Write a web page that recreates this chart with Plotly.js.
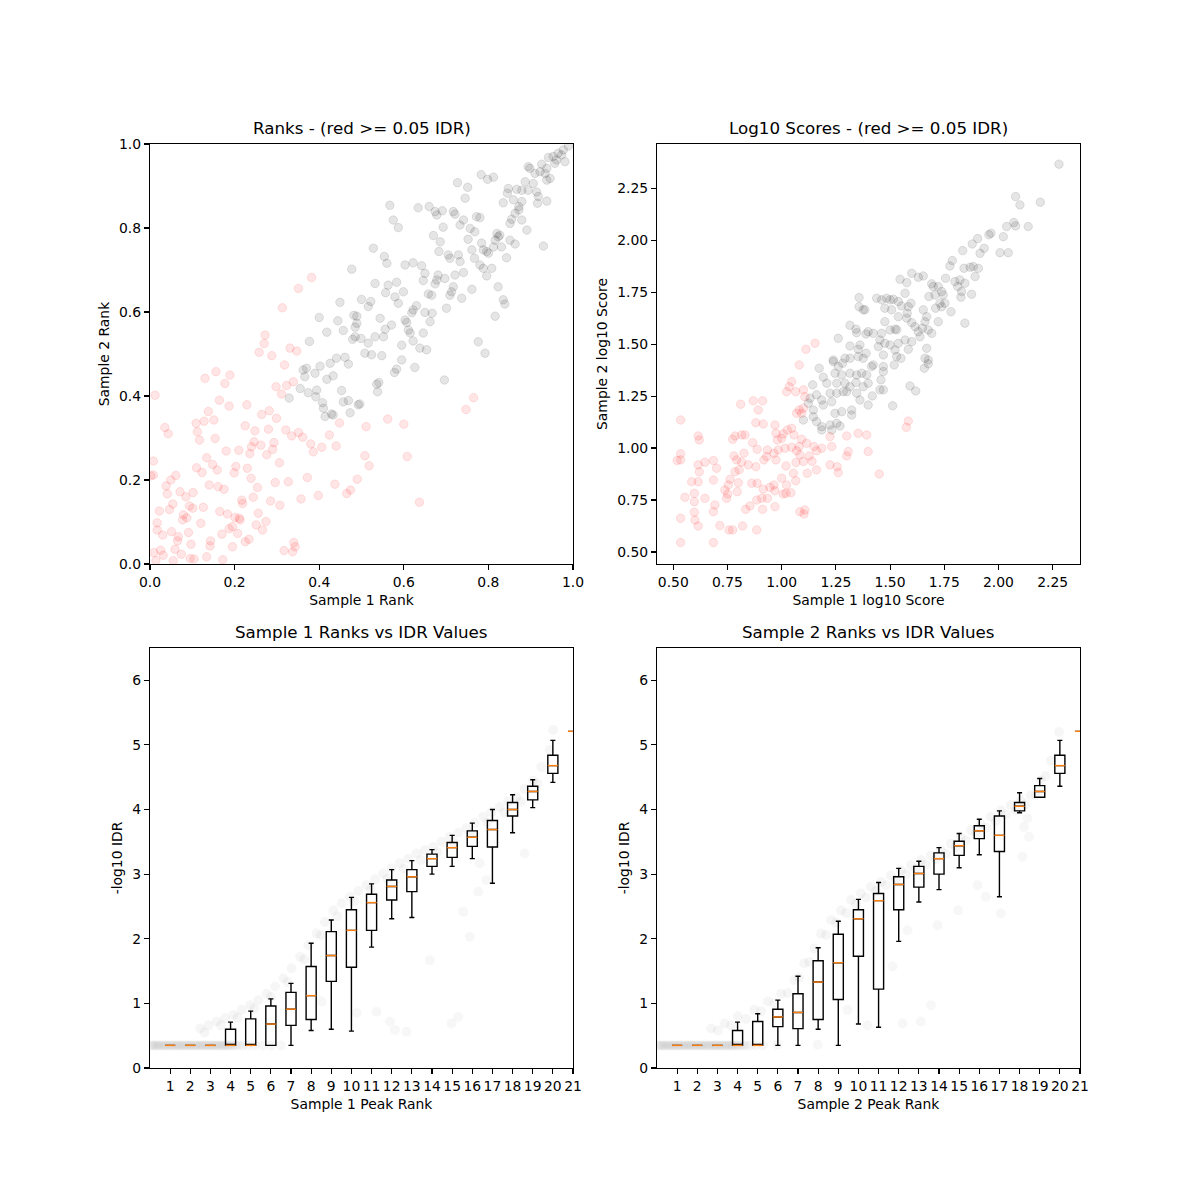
<!DOCTYPE html>
<html><head><meta charset="utf-8">
<script src="https://cdn.plot.ly/plotly-3.0.1.min.js"></script>
<style>body{margin:0;background:#fff}#chart{width:1200px;height:1200px}</style>
</head><body><div id="chart"></div>
<script>
// ---------- Top-left: ranks (x = sample 1 rank, y = sample 2 rank) ----------
const ranksGrey = [
[0.477,0.702],[0.449,0.623],[0.400,0.587],[0.444,0.579],[0.482,0.592],[0.418,0.552],[0.457,0.556],[0.485,0.564],[0.377,0.530],[0.479,0.535],[0.441,0.490],[0.461,0.492],
[0.989,0.995],[0.977,0.986],[0.965,0.978],[0.953,0.970],[0.942,0.968],[0.973,0.974],[0.981,0.958],[0.957,0.954],[0.961,0.962],[0.938,0.942],[0.926,0.952],[0.922,0.934],[0.894,0.946],[0.898,0.942],[0.910,0.930],[0.934,0.930],[0.946,0.918],[0.938,0.914],[0.906,0.906],[0.894,0.890],[0.887,0.910],[0.879,0.890],[0.914,0.886],[0.918,0.875],[0.938,0.864],[0.916,0.859],[0.867,0.892],[0.847,0.894],[0.845,0.883],[0.859,0.867],[0.879,0.863],[0.872,0.851],[0.835,0.860],[0.872,0.843],[0.863,0.835],[0.855,0.821],[0.851,0.811],[0.879,0.819],[0.891,0.795],[0.930,0.757],[0.783,0.927],[0.798,0.916],[0.812,0.921],[0.727,0.908],[0.751,0.897],[0.745,0.871],[0.567,0.854],[0.634,0.848],[0.660,0.851],[0.674,0.839],[0.691,0.841],[0.678,0.831],[0.717,0.839],[0.721,0.833],[0.741,0.819],[0.733,0.807],[0.772,0.827],[0.780,0.825],[0.757,0.799],[0.768,0.791],[0.752,0.773],[0.693,0.802],[0.575,0.819],[0.587,0.801],[0.670,0.782],[0.686,0.767],[0.683,0.744],[0.705,0.736],[0.709,0.728],[0.729,0.736],[0.733,0.720],[0.761,0.748],[0.784,0.764],[0.788,0.748],[0.796,0.744],[0.800,0.740],[0.820,0.787],[0.823,0.779],[0.827,0.783],[0.816,0.771],[0.812,0.755],[0.831,0.755],[0.851,0.771],[0.863,0.762],[0.843,0.729],[0.767,0.728],[0.780,0.712],[0.788,0.704],[0.808,0.704],[0.796,0.686],[0.823,0.660],[0.835,0.629],[0.839,0.619],[0.816,0.590],[0.528,0.752],[0.554,0.732],[0.560,0.716],[0.603,0.712],[0.622,0.717],[0.642,0.710],[0.650,0.692],[0.646,0.675],[0.681,0.688],[0.678,0.676],[0.674,0.667],[0.697,0.680],[0.721,0.688],[0.741,0.694],[0.717,0.660],[0.713,0.648],[0.709,0.640],[0.737,0.633],[0.761,0.654],[0.658,0.643],[0.666,0.640],[0.532,0.668],[0.563,0.664],[0.557,0.646],[0.583,0.671],[0.599,0.648],[0.579,0.636],[0.587,0.621],[0.500,0.630],[0.516,0.613],[0.522,0.625],[0.630,0.615],[0.622,0.605],[0.619,0.598],[0.650,0.599],[0.667,0.597],[0.662,0.577],[0.701,0.609],[0.489,0.590],[0.489,0.573],[0.544,0.585],[0.485,0.541],[0.499,0.537],[0.516,0.526],[0.532,0.541],[0.552,0.541],[0.556,0.559],[0.571,0.569],[0.603,0.581],[0.607,0.575],[0.611,0.557],[0.615,0.550],[0.646,0.550],[0.622,0.531],[0.595,0.521],[0.638,0.514],[0.654,0.510],[0.776,0.529],[0.792,0.502],[0.508,0.502],[0.524,0.498],[0.548,0.496],[0.595,0.486],
[0.362,0.462],[0.370,0.466],[0.366,0.446],[0.390,0.454],[0.402,0.471],[0.426,0.478],[0.469,0.476],[0.418,0.440],[0.433,0.448],[0.355,0.418],[0.374,0.408],[0.394,0.414],[0.392,0.398],[0.408,0.384],[0.410,0.371],[0.414,0.351],[0.429,0.357],[0.433,0.355],[0.453,0.413],[0.457,0.386],[0.469,0.389],[0.473,0.360],[0.492,0.379],[0.329,0.395],
[0.578,0.456],[0.583,0.464],[0.626,0.468],[0.696,0.438],[0.536,0.428],[0.541,0.432],[0.538,0.410],[0.496,0.381]
];
const ranksRed = [
[0.382,0.682],[0.351,0.656],[0.313,0.610],[0.272,0.545],[0.270,0.525],[0.258,0.504],[0.288,0.496],[0.331,0.514],[0.347,0.507],
[0.318,0.474],[0.339,0.434],[0.323,0.425],[0.298,0.422],[0.311,0.405],[0.156,0.458],[0.189,0.450],[0.177,0.430],[0.130,0.442],[0.164,0.390],[0.187,0.376],[0.229,0.379],[0.138,0.363],[0.128,0.340],[0.109,0.335],[0.151,0.343],[0.264,0.356],[0.282,0.365],[0.299,0.347],[0.448,0.336],[0.035,0.325],[0.043,0.310],[0.112,0.315],[0.117,0.295],[0.154,0.299],[0.225,0.329],[0.248,0.317],[0.280,0.321],[0.321,0.319],[0.335,0.305],[0.351,0.313],[0.361,0.302],[0.424,0.307],[0.380,0.286],[0.386,0.267],[0.406,0.278],[0.440,0.281],[0.246,0.291],[0.240,0.279],[0.236,0.263],[0.262,0.283],[0.290,0.273],[0.293,0.289],[0.276,0.260],[0.306,0.241],[0.180,0.269],[0.210,0.271],[0.134,0.253],[0.148,0.237],[0.159,0.224],[0.110,0.229],[0.123,0.218],[0.203,0.232],[0.199,0.217],[0.230,0.228],[0.239,0.204],[0.008,0.245],[0.008,0.212],[0.002,0.210],[0.038,0.186],[0.041,0.167],[0.049,0.200],[0.061,0.211],[0.071,0.172],[0.085,0.160],[0.102,0.170],[0.140,0.188],[0.161,0.184],[0.175,0.178],[0.254,0.182],[0.296,0.194],[0.327,0.196],[0.372,0.206],[0.398,0.163],[0.357,0.155],[0.437,0.190],[0.465,0.168],[0.474,0.176],[0.490,0.202],[0.022,0.126],[0.046,0.130],[0.054,0.143],[0.093,0.138],[0.101,0.133],[0.126,0.135],[0.165,0.125],[0.183,0.119],[0.201,0.111],[0.211,0.109],[0.217,0.152],[0.219,0.144],[0.244,0.159],[0.285,0.150],[0.307,0.140],[0.079,0.117],[0.077,0.105],[0.087,0.110],[0.017,0.098],[0.017,0.081],[0.030,0.069],[0.051,0.077],[0.067,0.065],[0.065,0.055],[0.091,0.075],[0.120,0.097],[0.059,0.035],[0.074,0.023],[0.097,0.047],[0.143,0.055],[0.142,0.043],[0.170,0.071],[0.187,0.084],[0.195,0.089],[0.207,0.073],[0.213,0.105],[0.251,0.093],[0.256,0.121],[0.274,0.101],[0.266,0.081],[0.234,0.059],[0.225,0.053],[0.195,0.041],[0.317,0.032],[0.337,0.029],[0.343,0.041],[0.340,0.051],[0.009,0.027],[0.025,0.033],[0.031,0.021],[0.014,0.008],[0.055,0.008],[0.095,0.013],[0.104,0.012],[0.134,0.017],[0.172,0.010],[0.012,0.402],
[0.511,0.327],[0.562,0.345],[0.600,0.333],[0.508,0.258],[0.518,0.234],[0.608,0.256],[0.637,0.147],[0.747,0.368],[0.765,0.396]
];

// ---------- Top-right: log10 scores ----------
const scoresGrey = [
[1.357,1.724],[1.357,1.680],[1.376,1.665],[1.315,1.591],[1.343,1.572],[1.346,1.555],[1.389,1.549],[1.261,1.528],[1.315,1.491],[1.361,1.496],[1.353,1.475],[1.389,1.456],[1.292,1.432],[1.315,1.432],[1.353,1.440],[1.238,1.424],
[2.279,2.366],[2.079,2.210],[2.099,2.170],[2.193,2.183],[2.071,2.085],[2.079,2.069],[2.038,2.066],[2.137,2.066],[2.022,2.017],[1.965,2.034],[1.956,2.026],[1.904,2.008],[1.879,1.982],[1.934,1.961],[1.915,1.937],[1.835,1.950],[2.007,1.940],[2.045,1.940],[1.787,1.902],[1.776,1.876],[1.841,1.865],[1.869,1.870],[1.884,1.873],[1.907,1.865],[1.892,1.825],[1.876,1.740],[1.845,1.601],[1.756,1.817],[1.799,1.801],[1.822,1.809],[1.812,1.777],[1.830,1.753],[1.827,1.726],[1.845,1.793],[1.722,1.777],[1.738,1.753],[1.745,1.737],[1.699,1.777],[1.679,1.729],[1.753,1.697],[1.738,1.680],[1.710,1.673],[1.781,1.656],[1.722,1.608],[1.692,1.790],[1.653,1.828],[1.630,1.822],[1.600,1.841],[1.577,1.796],[1.546,1.812],[1.569,1.745],[1.596,1.697],[1.584,1.680],[1.579,1.649],[1.577,1.625],[1.553,1.684],[1.515,1.716],[1.484,1.721],[1.461,1.713],[1.438,1.721],[1.500,1.713],[1.538,1.705],[1.476,1.673],[1.507,1.665],[1.538,1.632],[1.523,1.572],[1.531,1.569],[1.476,1.608],[1.500,1.568],[1.600,1.603],[1.615,1.584],[1.653,1.665],[1.669,1.632],[1.661,1.608],[1.649,1.576],[1.676,1.568],[1.630,1.560],[1.692,1.552],[1.638,1.536],[1.600,1.512],[1.569,1.520],[1.669,1.480],[1.584,1.475],[1.538,1.504],[1.523,1.472],[1.500,1.496],[1.476,1.504],[1.453,1.520],[1.461,1.552],[1.422,1.552],[1.399,1.560],[1.384,1.665],[1.446,1.488],[1.469,1.448],[1.530,1.440],[1.661,1.432],[1.707,1.737],[1.730,1.697],
[1.173,1.384],[1.192,1.341],[1.238,1.416],[1.261,1.392],[1.281,1.408],[1.376,1.432],[1.246,1.360],[1.277,1.352],[1.315,1.360],[1.346,1.352],[1.369,1.360],[1.143,1.304],[1.208,1.312],[1.254,1.312],[1.292,1.312],[1.315,1.295],[1.343,1.315],[1.300,1.271],[1.346,1.264],[1.376,1.295],[1.131,1.240],[1.161,1.256],[1.185,1.231],[1.223,1.264],[1.254,1.264],[1.284,1.271],[1.361,1.231],[1.146,1.183],[1.123,1.216],[1.192,1.207],[1.231,1.223],[1.246,1.167],[1.277,1.175],[1.323,1.183],[1.323,1.159],[1.100,1.135],[1.146,1.151],[1.161,1.127],[1.185,1.103],[1.223,1.111],[1.254,1.119],[1.269,1.106],[1.231,1.087],[1.185,1.087],[1.399,1.207],
[1.415,1.392],[1.422,1.400],[1.469,1.392],[1.469,1.368],[1.392,1.352],[1.399,1.312],[1.418,1.251],[1.453,1.280],[1.469,1.280],[1.458,1.328],[1.519,1.400],[1.550,1.432],[1.676,1.424],[1.676,1.405],[1.658,1.384],[1.592,1.299],[1.618,1.275],[1.512,1.203]
];
const scoresRed = [
[1.112,1.475],[1.154,1.504],
[1.081,1.400],[1.046,1.320],[1.035,1.295],[1.023,1.271],[1.065,1.271],[1.100,1.280],[1.107,1.247],[1.069,1.167],[1.081,1.183],[1.100,1.192],[1.092,1.167],[1.223,1.055],[1.300,1.058],[1.353,1.071],[1.392,1.063],[1.399,0.983],[1.307,0.983],[1.300,0.962],[1.231,1.007],[1.185,0.999],[1.149,1.007],[1.161,0.987],[1.127,0.962],[1.140,0.936],[1.084,0.967],[1.069,0.987],[1.046,1.004],[1.015,0.999],[0.984,0.991],[0.964,0.975],[0.931,0.959],[0.918,0.943],[0.887,0.994],[0.934,0.991],[0.974,0.943],[1.020,0.914],[1.000,0.855],[1.066,0.930],[1.100,0.935],[1.118,0.879],[1.161,0.895],[1.223,0.919],[1.256,0.910],[1.261,0.882],[1.054,0.879],[1.065,0.843],[1.023,0.822],[1.043,0.785],[1.007,0.779],[0.969,0.794],[0.964,0.822],[0.946,0.811],[0.915,0.802],[0.934,0.758],[0.908,0.758],[0.885,0.750],[0.862,0.831],[0.887,0.831],[0.881,0.910],[0.846,0.919],[0.826,0.975],[0.815,0.932],[0.792,0.943],[0.780,0.962],[0.762,0.850],[0.754,0.822],[0.738,0.798],[0.751,0.779],[0.746,0.758],[0.800,0.833],[0.795,0.790],[0.785,0.886],[0.804,0.895],[0.831,1.063],[0.815,1.063],[0.785,1.058],[0.774,1.042],[0.866,1.026],[0.881,1.122],[0.915,1.116],[0.969,1.111],[0.974,1.071],[0.980,1.039],[1.000,1.047],[1.007,1.068],[1.026,1.087],[1.046,1.095],[1.057,1.063],[1.092,1.042],[1.115,1.023],[1.081,1.007],[0.811,1.211],[0.869,1.227],[0.912,1.227],[0.892,1.183],[0.534,1.135],[0.615,1.058],[0.620,1.039],[0.534,0.972],[0.534,0.943],[0.518,0.940],[0.615,0.919],[0.620,0.886],[0.646,0.932],[0.685,0.940],[0.700,0.903],[0.585,0.838],[0.615,0.838],[0.685,0.846],[0.554,0.763],[0.597,0.782],[0.597,0.742],[0.646,0.758],[0.692,0.726],[0.685,0.694],[0.597,0.691],[0.600,0.654],[0.615,0.625],[0.534,0.662],[0.715,0.627],[0.757,0.606],[0.774,0.606],[0.820,0.625],[0.834,0.705],[0.854,0.721],[0.885,0.606],[0.912,0.705],[0.969,0.718],[1.020,0.782],[1.084,0.694],[1.107,0.702],[1.103,0.683],[0.534,0.545],[0.685,0.545],
[1.584,1.130],[1.575,1.100],[1.450,0.875]
];

// ---------- Bottom: box statistics (-log10 IDR) per peak-rank bin ----------
const binPositions = [1,2,3,4,5,6,7,8,9,10,11,12,13,14,15,16,17,18,19,20,21];
const binLabels = ['1','2','3','4','5','6','7','8','9','10','11','12','13','14','15','16','17','18','19','20','21'];

const s1Low  = [0.35,0.35,0.35,0.35,0.35,0.35,0.35,0.58,0.60,0.57,1.87,2.31,2.33,3.00,3.12,3.24,2.86,3.64,4.03,4.42,5.21];
const s1Q1   = [0.35,0.35,0.35,0.35,0.35,0.35,0.66,0.75,1.34,1.56,2.13,2.60,2.73,3.12,3.26,3.43,3.42,3.90,4.15,4.56,5.21];
const s1Med  = [0.35,0.35,0.35,0.35,0.35,0.68,0.91,1.12,1.74,2.13,2.56,2.81,2.96,3.24,3.41,3.57,3.69,4.00,4.28,4.68,5.21];
const s1Q3   = [0.35,0.35,0.35,0.60,0.76,0.96,1.17,1.57,2.11,2.45,2.69,2.91,3.07,3.31,3.49,3.67,3.83,4.11,4.36,4.84,5.21];
const s1High = [0.35,0.35,0.35,0.71,0.88,1.07,1.31,1.93,2.29,2.64,2.85,3.07,3.21,3.38,3.60,3.79,4.00,4.23,4.46,5.07,5.21];

const s2Low  = [0.35,0.35,0.35,0.35,0.35,0.35,0.35,0.60,0.35,0.68,0.63,1.96,2.57,2.76,3.10,3.30,2.65,3.95,4.19,4.36,5.21];
const s2Q1   = [0.35,0.35,0.35,0.35,0.35,0.64,0.61,0.75,1.06,1.73,1.22,2.45,2.80,3.00,3.29,3.55,3.35,3.98,4.19,4.56,5.21];
const s2Med  = [0.35,0.35,0.35,0.35,0.35,0.79,0.86,1.33,1.63,2.31,2.59,2.84,3.01,3.24,3.44,3.67,3.60,4.05,4.28,4.68,5.21];
const s2Q3   = [0.35,0.35,0.35,0.58,0.72,0.91,1.15,1.66,2.07,2.45,2.70,2.96,3.12,3.33,3.51,3.75,3.90,4.11,4.37,4.84,5.21];
const s2High = [0.35,0.35,0.35,0.71,0.84,1.05,1.42,1.86,2.27,2.61,2.87,3.09,3.20,3.41,3.63,3.85,3.98,4.26,4.48,5.07,5.21];

// ---------- Bottom: faint background peaks (scaled rank, -log10 IDR) ----------
const s1PeaksFaint = [
[0.04,0.35],[0.12,0.35],[0.21,0.35],[0.30,0.35],[0.38,0.35],[0.47,0.35],[0.55,0.35],[0.66,0.35],[0.74,0.35],[0.83,0.35],[0.93,0.35],[1.02,0.35],[1.11,0.35],[1.20,0.35],[1.30,0.35],[1.39,0.35],[1.47,0.35],[1.57,0.35],[1.66,0.35],[1.75,0.35],[1.85,0.35],[1.94,0.35],[2.03,0.35],[2.12,0.35],[2.22,0.35],[2.31,0.35],[2.40,0.35],[2.50,0.35],[2.58,0.35],[2.68,0.35],[2.77,0.35],[2.86,0.35],[2.96,0.35],[3.05,0.35],[3.14,0.35],[3.24,0.35],[3.33,0.35],[3.42,0.35],[3.52,0.35],[3.61,0.35],[3.70,0.35],[3.80,0.35],[3.90,0.35],[4.00,0.35],[4.12,0.35],[4.25,0.35],[4.40,0.35],[4.60,0.35],[4.85,0.35],[5.20,0.35],[5.60,0.35],[6.00,0.35],[6.50,0.35],
[10.26,0.85],[11.25,0.87],[12.16,0.59],[12.74,0.56],[15.55,2.42],[15.88,2.03],[13.89,1.67],[14.97,0.69],[15.30,0.79],[16.29,2.73],[16.70,2.91],[18.60,3.32],[16.37,3.17],[8.52,1.03],[11.91,0.72]
];
const s1PeaksCurve = [
[2.49,0.61],[2.90,0.66],[3.31,0.72],[3.73,0.77],[4.14,0.82],[4.55,0.90],[4.97,0.97],[5.38,1.05],[5.79,1.15],[6.21,1.26],[6.62,1.39],[7.03,1.54],[7.45,1.72],[7.86,1.90],[8.27,2.08],[8.69,2.26],[9.10,2.44],[9.51,2.55],[9.93,2.65],[10.34,2.74],[10.75,2.83],[11.17,2.92],[11.58,3.01],[11.99,3.09],[12.40,3.17],[12.82,3.24],[13.23,3.32],[13.64,3.37],[14.06,3.42],[14.47,3.50],[14.88,3.58],[15.30,3.64],[15.71,3.71],[16.12,3.79],[16.54,3.89],[16.95,3.96],[17.36,4.04],[17.78,4.12],[18.19,4.19],[18.60,4.32],[19.02,4.45],[19.43,4.66],[19.84,4.92],[20.01,5.23],
[2.70,0.55],[3.52,0.66],[4.35,0.78],[5.18,0.92],[6.00,1.10],[6.83,1.33],[7.66,1.68],[8.48,2.05],[9.30,2.35],[10.14,2.58],[10.96,2.76],[11.79,2.93],[12.61,3.08],[13.44,3.22],[14.27,3.34],[15.09,3.49],[15.92,3.63],[16.75,3.80],[17.57,3.95],[18.40,4.12],[19.23,4.40]
];
const s2PeaksFaint = [
[0.04,0.35],[0.13,0.35],[0.22,0.35],[0.31,0.35],[0.39,0.35],[0.48,0.35],[0.57,0.35],[0.65,0.35],[0.75,0.35],[0.84,0.35],[0.92,0.35],[1.01,0.35],[1.10,0.35],[1.19,0.35],[1.29,0.35],[1.38,0.35],[1.48,0.35],[1.56,0.35],[1.65,0.35],[1.74,0.35],[1.84,0.35],[1.93,0.35],[2.02,0.35],[2.13,0.35],[2.21,0.35],[2.30,0.35],[2.41,0.35],[2.49,0.35],[2.59,0.35],[2.67,0.35],[2.78,0.35],[2.87,0.35],[2.95,0.35],[3.04,0.35],[3.15,0.35],[3.23,0.35],[3.34,0.35],[3.43,0.35],[3.51,0.35],[3.62,0.35],[3.71,0.35],[3.79,0.35],[3.91,0.35],[4.01,0.35],[4.13,0.35],[4.27,0.35],[4.42,0.35],[4.62,0.35],[4.90,0.35],[5.25,0.35],[5.99,0.36],[7.98,0.36],
[9.46,0.90],[10.45,0.66],[11.69,1.57],[12.44,2.13],[12.19,0.69],[13.10,0.72],[13.60,0.97],[13.93,2.21],[14.95,2.44],[15.91,2.83],[16.32,2.65],[17.07,2.39],[18.14,3.27],[18.22,3.73],[18.39,3.86],[18.47,3.58]
];
const s2PeaksCurve = [
[2.69,0.61],[3.35,0.69],[4.01,0.80],[4.83,0.90],[5.50,1.03],[6.16,1.15],[6.82,1.36],[7.31,1.62],[7.81,1.85],[8.14,2.08],[8.64,2.29],[9.13,2.44],[9.63,2.60],[10.12,2.70],[10.62,2.80],[11.12,2.88],[11.61,2.98],[12.11,3.06],[12.60,3.14],[13.10,3.22],[13.60,3.29],[14.09,3.37],[14.59,3.47],[15.08,3.58],[15.58,3.68],[16.07,3.78],[16.57,3.89],[17.07,3.99],[17.56,4.07],[18.06,4.14],[18.55,4.22],[19.05,4.45],[19.55,4.76],[19.96,5.20],
[3.02,0.58],[3.68,0.66],[4.42,0.76],[5.17,0.88],[5.83,1.00],[6.49,1.16],[7.06,1.40],[7.56,1.64],[8.39,2.06],[8.89,2.25],[9.38,2.40],[9.88,2.54],[10.37,2.64],[10.87,2.74],[11.37,2.83],[11.86,2.92],[12.36,3.00],[12.85,3.08],[13.35,3.15],[13.85,3.23],[14.34,3.31],[14.84,3.42],[15.33,3.52],[15.83,3.62],[16.32,3.72],[16.82,3.82],[17.32,3.92],[17.81,3.99],[18.30,4.08],[18.80,4.22],[19.30,4.52]
];

// ---------- Build traces ----------
const FONT = 'DejaVu Sans';
const xs = a => a.map(p => p[0]);
const ys = a => a.map(p => p[1]);

function scatter(pts, col, ax, ay) {
  return {type:'scatter', mode:'markers', x: xs(pts), y: ys(pts), xaxis: ax, yaxis: ay,
    marker: {size: 8.5, color: col, line: {color: col, width: 1}}, hoverinfo: 'skip', showlegend: false};
}
function faint(pts, alpha, ax, ay) {
  return {type:'scatter', mode:'markers', x: xs(pts), y: ys(pts), xaxis: ax, yaxis: ay,
    marker: {size: 10, color: 'rgba(0,0,0,' + alpha + ')', line: {width: 0}}, hoverinfo: 'skip', showlegend: false};
}
function boxes(lo, q1, med, q3, hi, ax, ay) {
  return {type:'box', x: binPositions, lowerfence: lo, q1: q1, median: med, q3: q3, upperfence: hi,
    xaxis: ax, yaxis: ay, width: 0.5, whiskerwidth: 0.5, boxpoints: false,
    line: {color: 'black', width: 1.4}, fillcolor: 'rgba(0,0,0,0)', hoverinfo: 'skip', showlegend: false};
}
function medians(med, ax, ay) {
  const hx = [], hy = [];
  binPositions.forEach((p, i) => { hx.push(p - 0.25, p + 0.25, null); hy.push(med[i], med[i], null); });
  return {type:'scatter', mode:'lines', x: hx, y: hy, xaxis: ax, yaxis: ay,
    line: {color: '#ff7f0e', width: 1.4}, hoverinfo: 'skip', showlegend: false};
}

const GREY = 'rgba(0,0,0,0.1)', RED = 'rgba(255,0,0,0.1)';
const data = [
  scatter(ranksGrey, GREY, 'x', 'y'),
  scatter(ranksRed, RED, 'x', 'y'),
  scatter(scoresGrey, GREY, 'x2', 'y2'),
  scatter(scoresRed, RED, 'x2', 'y2'),
  faint(s1PeaksFaint, 0.03, 'x3', 'y3'),
  faint(s1PeaksCurve, 0.035, 'x3', 'y3'),
  boxes(s1Low, s1Q1, s1Med, s1Q3, s1High, 'x3', 'y3'),
  medians(s1Med, 'x3', 'y3'),
  faint(s2PeaksFaint, 0.03, 'x4', 'y4'),
  faint(s2PeaksCurve, 0.035, 'x4', 'y4'),
  boxes(s2Low, s2Q1, s2Med, s2Q3, s2High, 'x4', 'y4'),
  medians(s2Med, 'x4', 'y4')
];

// ---------- Layout ----------
const tickFont = {family: FONT, size: 13.9, color: 'black'};
const labFont = {family: FONT, size: 13.9, color: 'black'};
function ax(extra, title) {
  return Object.assign({showline: true, mirror: true, linecolor: 'black', linewidth: 1.1,
    ticks: 'outside', ticklen: 5, tickwidth: 1.1, tickcolor: 'black',
    showgrid: false, zeroline: false, tickfont: tickFont, fixedrange: true,
    title: {text: title, font: labFont, standoff: 6}}, extra);
}
const L = [0.125, 0.4775], R = [0.5475, 0.9], T = [0.53, 0.88], B = [0.11, 0.46];

const layout = {
  width: 1200, height: 1200, margin: {l: 0, r: 0, t: 0, b: 0},
  paper_bgcolor: 'white', plot_bgcolor: 'white', showlegend: false,
  font: {family: FONT, color: 'black'},
  xaxis:  ax({domain: L, anchor: 'y',  range: [0, 1], tickvals: [0, 0.2, 0.4, 0.6, 0.8, 1.0], tickformat: '.1f'}, 'Sample 1 Rank'),
  yaxis:  ax({domain: T, anchor: 'x',  range: [0, 1], tickvals: [0, 0.2, 0.4, 0.6, 0.8, 1.0], tickformat: '.1f'}, 'Sample 2 Rank'),
  xaxis2: ax({domain: R, anchor: 'y2', range: [0.425, 2.376], tick0: 0.5, dtick: 0.25, tickformat: '.2f'}, 'Sample 1 log10 Score'),
  yaxis2: ax({domain: T, anchor: 'x2', range: [0.442, 2.463], tick0: 0.5, dtick: 0.25, tickformat: '.2f'}, 'Sample 2 log10 Score'),
  xaxis3: ax({domain: L, anchor: 'y3', range: [0, 21], tickvals: binPositions, ticktext: binLabels}, 'Sample 1 Peak Rank'),
  yaxis3: ax({domain: B, anchor: 'x3', range: [0, 6.5], tick0: 0, dtick: 1}, '-log10 IDR'),
  xaxis4: ax({domain: R, anchor: 'y4', range: [0, 21], tickvals: binPositions, ticktext: binLabels}, 'Sample 2 Peak Rank'),
  yaxis4: ax({domain: B, anchor: 'x4', range: [0, 6.5], tick0: 0, dtick: 1}, '-log10 IDR'),
  annotations: [
    ['Ranks - (red >= 0.05 IDR)', L, T],
    ['Log10 Scores - (red >= 0.05 IDR)', R, T],
    ['Sample 1 Ranks vs IDR Values', L, B],
    ['Sample 2 Ranks vs IDR Values', R, B]
  ].map(([t, dx, dy]) => ({text: t, xref: 'paper', yref: 'paper', x: (dx[0] + dx[1]) / 2, y: dy[1],
    xanchor: 'center', yanchor: 'bottom', yshift: 4, showarrow: false,
    font: {family: FONT, size: 16.7, color: 'black'}}))
};

Plotly.newPlot('chart', data, layout, {staticPlot: true, displayModeBar: false});
</script></body></html>
